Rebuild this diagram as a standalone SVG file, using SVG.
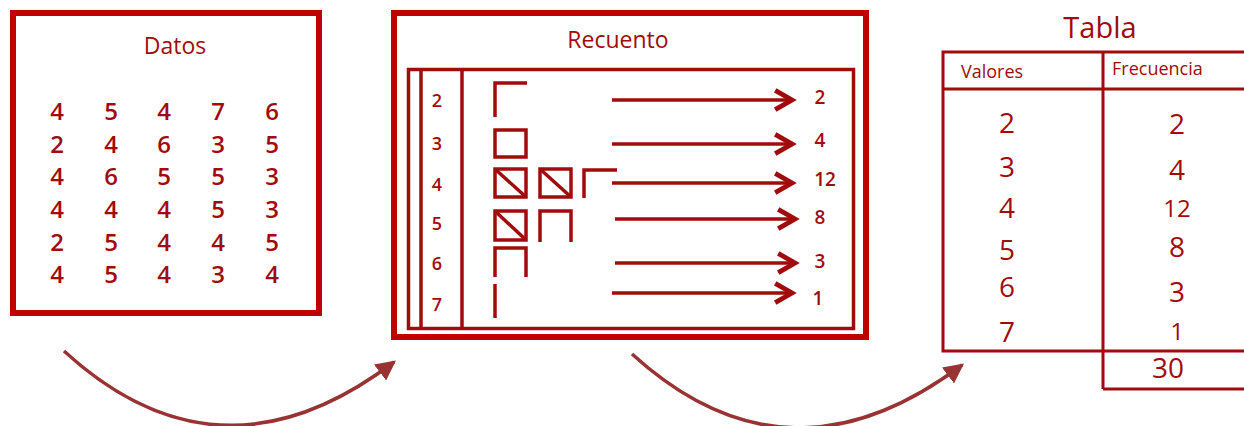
<svg xmlns="http://www.w3.org/2000/svg" width="1244" height="426" viewBox="0 0 1244 426">
<style>
.frame{fill:none;stroke:#c00000;stroke-width:6}
.ln{fill:none;stroke:#a00c0c;stroke-width:3.5}
.t{font-family:"Open Sans","Noto Sans",sans-serif;fill:#a00c0c;text-anchor:middle}
.tl{font-family:"Open Sans","Noto Sans",sans-serif;fill:#a00c0c}
.g{font-size:24px;font-weight:600}
.r{font-size:18px;font-weight:600}
.rr{font-size:19px;font-weight:600}
.tb{font-size:28px;font-weight:500}
.conn{fill:none;stroke:#993333;stroke-width:3.5}
.tally{fill:none;stroke:#a00c0c;stroke-width:3.5}
.ar{fill:none;stroke:#a00c0c;stroke-width:3.5}
</style>
<defs>
<marker id="chev" markerUnits="userSpaceOnUse" markerWidth="24" markerHeight="24" refX="16" refY="10" orient="auto" viewBox="0 0 20 20">
<path d="M2,2 L16,10 L2,18" fill="none" stroke="#a00c0c" stroke-width="4"/>
</marker>
<marker id="tri" markerUnits="userSpaceOnUse" markerWidth="20" markerHeight="20" refX="14" refY="8" orient="auto" viewBox="0 0 16 16">
<path d="M0,0 L16,8 L0,16 Z" fill="#993333"/>
</marker>
</defs>

<g id="datos">
<rect class="frame" x="13" y="13" width="306" height="300"/>
<text class="t" x="175" y="54" font-size="23">Datos</text>
<g class="t g">
<text x="57" y="120">4</text><text x="111" y="120">5</text><text x="164" y="120">4</text><text x="218" y="120">7</text><text x="272" y="120">6</text>
<text x="57" y="153">2</text><text x="111" y="153">4</text><text x="164" y="153">6</text><text x="218" y="153">3</text><text x="272" y="153">5</text>
<text x="57" y="185">4</text><text x="111" y="185">6</text><text x="164" y="185">5</text><text x="218" y="185">5</text><text x="272" y="185">3</text>
<text x="57" y="218">4</text><text x="111" y="218">4</text><text x="164" y="218">4</text><text x="218" y="218">5</text><text x="272" y="218">3</text>
<text x="57" y="251">2</text><text x="111" y="251">5</text><text x="164" y="251">4</text><text x="218" y="251">4</text><text x="272" y="251">5</text>
<text x="57" y="283">4</text><text x="111" y="283">5</text><text x="164" y="283">4</text><text x="218" y="283">3</text><text x="272" y="283">4</text>
</g>
</g>

<g id="recuento">
<rect class="frame" x="394" y="13" width="472" height="324"/>
<text class="t" x="618" y="48" font-size="23">Recuento</text>
<rect class="ln" x="408.5" y="69.5" width="445" height="259"/>
<line class="ln" x1="421" y1="69.5" x2="421" y2="328.5"/>
<line class="ln" x1="462" y1="69.5" x2="462" y2="328.5"/>
<g class="t r">
<text x="437" y="107">2</text>
<text x="437" y="150">3</text>
<text x="437" y="191">4</text>
<text x="437" y="230">5</text>
<text x="437" y="270">6</text>
<text x="437" y="311">7</text>
</g>
<g class="tally">
<path d="M495,117 V83 H527"/>
<rect x="495" y="130" width="31" height="27"/>
<rect x="495" y="169" width="31" height="28"/>
<path d="M495,169 L526,197"/>
<rect x="540" y="169" width="31" height="28"/>
<path d="M540,169 L571,197"/>
<path d="M584,198 V170 H617"/>
<rect x="495" y="211" width="31" height="29"/>
<path d="M495,211 L526,240"/>
<path d="M540,242 V211 H571 V242"/>
<path d="M495,277 V248 H526 V277"/>
<path d="M495,284 V318"/>
</g>
<g class="ar">
<line x1="612" y1="100" x2="792" y2="100" marker-end="url(#chev)"/>
<line x1="612" y1="144" x2="792" y2="144" marker-end="url(#chev)"/>
<line x1="612" y1="183" x2="792" y2="183" marker-end="url(#chev)"/>
<line x1="615" y1="219" x2="795" y2="219" marker-end="url(#chev)"/>
<line x1="615" y1="263" x2="795" y2="263" marker-end="url(#chev)"/>
<line x1="612" y1="293" x2="792" y2="293" marker-end="url(#chev)"/>
</g>
<g class="t rr">
<text x="820" y="104">2</text>
<text x="820" y="147">4</text>
<text x="825" y="186">12</text>
<text x="820" y="224">8</text>
<text x="820" y="268">3</text>
<text x="818" y="305">1</text>
</g>
</g>

<g id="tabla">
<text class="t" x="1100" y="38" font-size="29">Tabla</text>
<g class="ln" style="stroke-width:3">
<path d="M1246,52 H943 V351 H1246"/>
<line x1="943" y1="89" x2="1246" y2="89"/>
<line x1="1103" y1="52" x2="1103" y2="389"/>
<line x1="1103" y1="389" x2="1246" y2="389"/>
</g>
<text class="tl" x="961" y="78" font-size="18">Valores</text>
<text class="tl" x="1112" y="75" font-size="18">Frecuencia</text>
<g class="t tb">
<text x="1007" y="133">2</text>
<text x="1007" y="177">3</text>
<text x="1007" y="218">4</text>
<text x="1007" y="260">5</text>
<text x="1007" y="297">6</text>
<text x="1007" y="342">7</text>
<text x="1177" y="134">2</text>
<text x="1177" y="180">4</text>
<text x="1177" y="217" font-size="24">12</text>
<text x="1177" y="257">8</text>
<text x="1177" y="302">3</text>
<text x="1177" y="340" font-size="24">1</text>
<text x="1168" y="378">30</text>
</g>
</g>

<g id="connectors">
<path class="conn" d="M64,351 Q220,494 394,362" marker-end="url(#tri)"/>
<path class="conn" d="M632,354 Q788,496 962,365" marker-end="url(#tri)"/>
</g>
</svg>
